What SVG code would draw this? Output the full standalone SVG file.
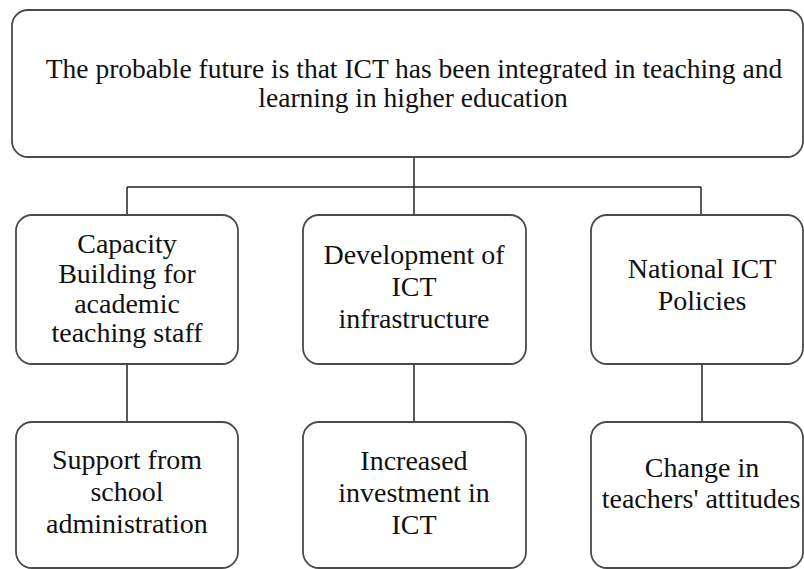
<svg xmlns="http://www.w3.org/2000/svg" width="804" height="569" viewBox="0 0 804 569">
<style>
.box{fill:#fff;stroke:#4a4a4a;stroke-width:1.8}
.t{font-family:'Liberation Serif','DejaVu Serif',serif;fill:#111;text-anchor:middle}
.top{font-size:27.5px}
.n{font-size:28px}
.c{fill:none;stroke:#222;stroke-width:1.5}
</style>
<rect width="804" height="569" fill="#fff"/>
<g id="connectors">
<path class="c" d="M414 157V187M127 187H701M127 187V215M414 187V215M701 187V215"/>
<path class="c" d="M127 364V422M414 364V422M702 364V422"/>
</g>
<g id="top">
<rect class="box" x="12" y="10" width="791" height="147" rx="16"/>
<text class="t top" x="414" y="78">The probable future is that ICT has been integrated in teaching and</text>
<text class="t top" x="413" y="107">learning in higher education</text>
</g>
<g id="capacity">
<rect class="box" x="16" y="215" width="222" height="149" rx="16"/>
<text class="t n" x="127" y="253">Capacity</text>
<text class="t n" x="127" y="283">Building for</text>
<text class="t n" x="127" y="313">academic</text>
<text class="t n" x="127" y="342">teaching staff</text>
</g>
<g id="development">
<rect class="box" x="303" y="215" width="223" height="149" rx="16"/>
<text class="t n" x="414" y="264">Development of</text>
<text class="t n" x="414" y="296">ICT</text>
<text class="t n" x="414" y="328">infrastructure</text>
</g>
<g id="policies">
<rect class="box" x="591" y="215" width="212" height="149" rx="16"/>
<text class="t n" x="702" y="278">National ICT</text>
<text class="t n" x="702" y="310">Policies</text>
</g>
<g id="support">
<rect class="box" x="16" y="422" width="222" height="146" rx="16"/>
<text class="t n" x="127" y="469">Support from</text>
<text class="t n" x="127" y="501">school</text>
<text class="t n" x="127" y="533">administration</text>
</g>
<g id="investment">
<rect class="box" x="303" y="422" width="223" height="146" rx="16"/>
<text class="t n" x="414" y="470">Increased</text>
<text class="t n" x="414" y="502">investment in</text>
<text class="t n" x="414" y="534">ICT</text>
</g>
<g id="attitudes">
<rect class="box" x="591" y="422" width="212" height="146" rx="16"/>
<text class="t n" x="702" y="477">Change in</text>
<text class="t n" x="701" y="508" font-size="27px">teachers' attitudes</text>
</g>
</svg>
